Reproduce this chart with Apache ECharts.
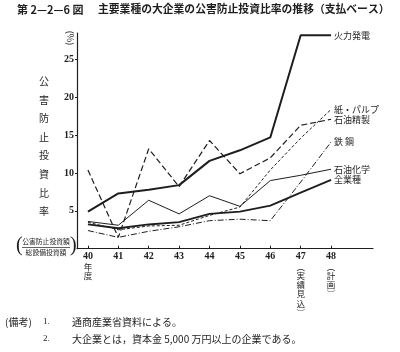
<!DOCTYPE html>
<html lang="ja">
<head>
<meta charset="UTF-8">
<title>公害防止投資比率の推移</title>
<script src="https://cdn.jsdelivr.net/npm/echarts@6/dist/echarts.min.js"></script>
<style>
  html, body { margin: 0; padding: 0; background: #fff; }
  #main { width: 400px; height: 352px; }
</style>
</head>
<body>
<div id="main"></div>
<script>
// 年度 (昭和)
var years = [40, 41, 42, 43, 44, 45, 46, 47, 48];
var yTicks = [5, 10, 15, 20, 25];

// 各業種の比率 (%)
var karyoku   = [4.9, 7.3, 7.8, 8.4, 11.6, 13.0, 14.7, 28.2, 28.2];
var kamiPulp  = [3.5, 2.5, 3.0, 3.1, 4.4, 5.5, 10.4, 14.6, 18.4];
var sekiyuSei = [10.4, 1.5, 13.2, 8.2, 14.3, 9.9, 12.0, 16.3, 17.1];
var tekko     = [2.4, 1.5, 2.3, 2.9, 3.7, 3.9, 3.7, 8.8, 14.1];
var sekiyuKa  = [3.6, 3.1, 6.4, 4.6, 7.0, 5.6, 9.0, 9.7, 10.5];
var zengyo    = [3.2, 2.7, 3.2, 3.5, 4.6, 4.9, 5.7, 7.4, 9.1];

var names = ['火力発電', '紙・パルプ', '石油精製', '鉄 鋼', '石油化学', '全業種'];

var INK = '#1e1e1e';
var JP = '"Noto Sans CJK JP", sans-serif';
var NUM = '"Liberation Serif", "DejaVu Serif", serif';

function pairs(vals) {
    return vals.map(function (v, i) { return [years[i], v]; });
}

function line(name, vals, width, dash) {
    return {
        name: name,
        type: 'line',
        data: pairs(vals),
        symbol: 'none',
        silent: true,
        lineStyle: { color: INK, width: width, type: dash },
        endLabel: {
            show: true,
            formatter: '{a}',
            distance: 3,
            color: INK,
            fontSize: 9,
            fontFamily: JP
        }
    };
}

var myChart = echarts.init(document.getElementById('main'));

var option = {
    backgroundColor: '#fff',
    animation: false,
    grid: { left: 77, right: 27, top: 33, height: 215.7 },
    xAxis: {
        type: 'value',
        min: 39.64,
        max: 49.38,
        splitLine: { show: false },
        axisLine: { lineStyle: { color: INK, width: 1.2 } },
        axisTick: { customValues: years, inside: true, length: 3, lineStyle: { color: INK } },
        axisLabel: {
            customValues: years,
            margin: 3,
            color: INK,
            formatter: function (v) {
                if (v === 40) return '{n|40}\n{c|年}\n{c|度}';
                if (v === 47) return '{n|47}\n{c|︵}\n{c|実}\n{c|績}\n{c|見}\n{c|込}\n{c|︶}';
                if (v === 48) return '{n|48}\n{c|︵}\n{c|計}\n{c|画}\n{c|︶}';
                return '{n|' + v + '}';
            },
            rich: {
                n: { fontFamily: NUM, fontWeight: 'bold', fontSize: 10, lineHeight: 10, color: INK },
                c: { fontFamily: JP, fontSize: 8.5, lineHeight: 9.3, color: INK }
            }
        }
    },
    yAxis: {
        type: 'value',
        min: 0,
        max: 28.5,
        splitLine: { show: false },
        axisLine: { show: true, lineStyle: { color: INK, width: 1.2 } },
        axisTick: { show: true, customValues: yTicks, length: 2, lineStyle: { color: INK } },
        axisLabel: {
            customValues: yTicks,
            margin: 3,
            color: INK,
            fontFamily: NUM,
            fontWeight: 'bold',
            fontSize: 10
        }
    },
    series: [
        line(names[0], karyoku, 2, 'solid'),
        line(names[1], kamiPulp, 1, [3, 2]),
        line(names[2], sekiyuSei, 1.2, [6, 3]),
        line(names[3], tekko, 1, [6, 2, 1, 2]),
        line(names[4], sekiyuKa, 1, 'solid'),
        line(names[5], zengyo, 1.8, 'solid')
    ],
    graphic: [
        {
            type: 'text', left: 17, top: 4,
            style: { text: '第 2—2—6 図', fill: INK, font: 'bold 11px "Noto Sans CJK JP"' }
        },
        {
            type: 'text', left: 98, top: 4,
            style: {
                text: '主要業種の大企業の公害防止投資比率の推移（支払ベース）',
                fill: INK, font: 'bold 10.8px "Noto Sans CJK JP"'
            }
        },
        {
            type: 'text', x: 70, y: 38, rotation: -Math.PI / 2,
            style: { text: '(%)', fill: INK, font: '9px "Noto Sans CJK JP"', align: 'center', verticalAlign: 'middle' }
        },
        {
            type: 'text', x: 44, y: 72,
            style: {
                text: '公\n害\n防\n止\n投\n資\n比\n率',
                fill: INK, font: '10px "Noto Sans CJK JP"', lineHeight: 18.6, align: 'center'
            }
        },
        {
            type: 'text', x: 46, y: 238,
            style: { text: '公害防止投資額', fill: INK, font: '6.8px "Noto Sans CJK JP"', align: 'center' }
        },
        {
            type: 'line', shape: { x1: 22, y1: 247.5, x2: 70, y2: 247.5 },
            style: { stroke: INK, lineWidth: 0.7 }
        },
        {
            type: 'text', x: 46, y: 249,
            style: { text: '総設備投資額', fill: INK, font: '6.8px "Noto Sans CJK JP"', align: 'center' }
        },
        {
            type: 'text', x: 16, y: 236,
            style: { text: '(', fill: INK, font: '20px "Liberation Serif"' }
        },
        {
            type: 'text', x: 70, y: 236,
            style: { text: ')', fill: INK, font: '20px "Liberation Serif"' }
        },
        {
            type: 'text', left: 5, top: 317,
            style: { text: '(備考)', fill: INK, font: '10px "Noto Sans CJK JP"' }
        },
        {
            type: 'text', left: 43, top: 317,
            style: { text: '1.', fill: INK, font: '9px "Liberation Serif"' }
        },
        {
            type: 'text', left: 72, top: 317,
            style: { text: '通商産業省資料による。', fill: INK, font: '10px "Noto Sans CJK JP"' }
        },
        {
            type: 'text', left: 43, top: 334,
            style: { text: '2.', fill: INK, font: '9px "Liberation Serif"' }
        },
        {
            type: 'text', left: 72, top: 334,
            style: { text: '大企業とは，資本金 5,000 万円以上の企業である。', fill: INK, font: '10px "Noto Sans CJK JP"' }
        }
    ]
};

myChart.setOption(option);
window.addEventListener('resize', function () {
    myChart.resize();
});
</script>
</body>
</html>
